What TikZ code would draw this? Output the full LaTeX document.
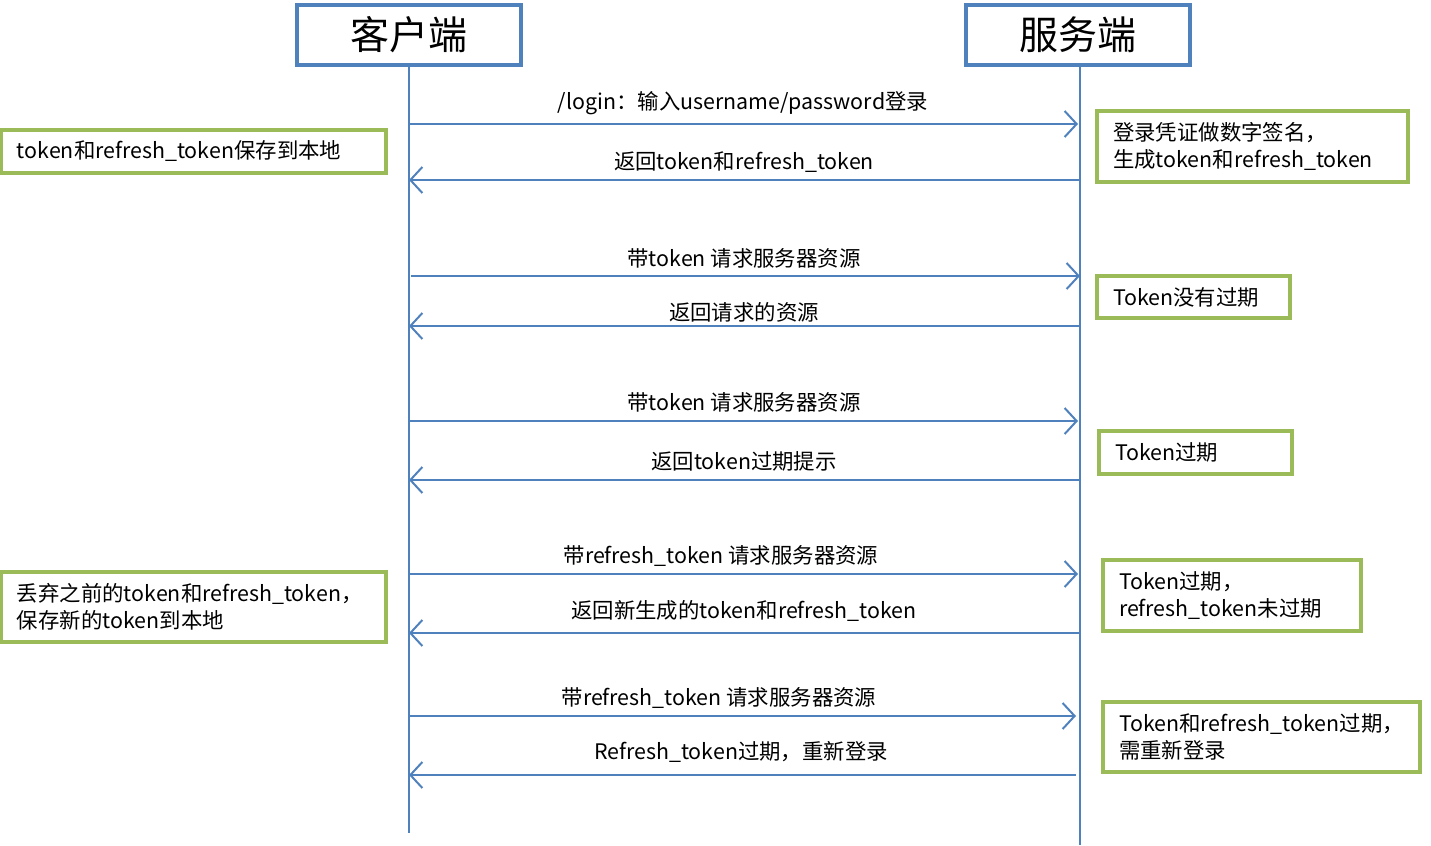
\documentclass[tikz,border=0pt]{standalone}
\usepackage{fontspec}
\setmainfont{Noto Sans CJK SC}
\usetikzlibrary{arrows.meta}

\definecolor{lineblue}{HTML}{4F81BD}
\definecolor{boxgreen}{HTML}{9BBB59}

\tikzset{
  head/.style={draw=lineblue, line width=2pt, minimum width=112pt, minimum height=30pt,
    inner sep=0pt, font=\fontsize{19.5}{22}\selectfont},
  life/.style={draw=lineblue, line width=1pt},
  msg/.style={draw=lineblue, line width=1pt, -{Straight Barb[length=6pt,width=13pt,line width=1pt]}},
  lbl/.style={inner sep=0pt, font=\fontsize{10.7}{13}\selectfont},
  gbox/.style={draw=boxgreen, line width=1.6pt, inner xsep=8pt, inner ysep=0pt, align=left,
    font=\fontsize{10.7}{13.5}\selectfont}
}

\begin{document}
\begin{tikzpicture}[x=0.5pt,y=-0.5pt]
\useasboundingbox (0,0) rectangle (1431,846);

% lifelines
\node[head] (client) at (409,35) {\raisebox{-1pt}{客户端}};
\node[head] (server) at (1078,35) {\raisebox{-1pt}{服务端}};
\coordinate (clientEnd) at (409,833);
\coordinate (serverEnd) at (1080,845);
\draw[life] (client.south) -- (clientEnd);
\draw[life] (server.south -| serverEnd) -- (serverEnd);

% login
\coordinate (c1) at (409,124); \coordinate (s1) at (1078,124);
\draw[msg] (c1) -- (s1);
\node[lbl] (m1) at (743,103) {/login：输入username/password登录};
\coordinate (c2) at (409,180); \coordinate (s2) at (1080,180);
\draw[msg] (s2) -- (c2);
\node[lbl] (m2) at (744,162) {返回token和refresh\_token};

% token ok
\coordinate (c3) at (411,276); \coordinate (s3) at (1080,276);
\draw[msg] (c3) -- (s3);
\node[lbl] (m3) at (744,258) {带token 请求服务器资源};
\coordinate (c4) at (409,326); \coordinate (s4) at (1080,326);
\draw[msg] (s4) -- (c4);
\node[lbl] (m4) at (744,312) {返回请求的资源};

% token expired
\coordinate (c5) at (409,421); \coordinate (s5) at (1078,421);
\draw[msg] (c5) -- (s5);
\node[lbl] (m5) at (744,402) {带token 请求服务器资源};
\coordinate (c6) at (409,480); \coordinate (s6) at (1080,480);
\draw[msg] (s6) -- (c6);
\node[lbl] (m6) at (744,461) {返回token过期提示};

% refresh
\coordinate (c7) at (409,574); \coordinate (s7) at (1078,574);
\draw[msg] (c7) -- (s7);
\node[lbl] (m7) at (721,556) {带refresh\_token 请求服务器资源};
\coordinate (c8) at (409,633); \coordinate (s8) at (1080,633);
\draw[msg] (s8) -- (c8);
\node[lbl] (m8) at (744,611) {返回新生成的token和refresh\_token};

% refresh expired
\coordinate (c9) at (409,716); \coordinate (s9) at (1076,716);
\draw[msg] (c9) -- (s9);
\node[lbl] (m9) at (719,698) {带refresh\_token 请求服务器资源};
\coordinate (c10) at (409,775); \coordinate (s10) at (1076,775);
\draw[msg] (s10) -- (c10);
\node[lbl] (m10) at (741,752) {Refresh\_token过期，重新登录};

% notes
\node[gbox, minimum height=21.5pt, text width=176.5pt] (saveOld) at (193.5,151.5)
  {token和refresh\_token保存到本地};
\node[gbox, minimum height=35.5pt, text width=139.5pt] (sign) at (1252.5,146.5)
  {登录凭证做数字签名，\\生成token和refresh\_token};
\node[gbox, minimum height=21pt, text width=80.5pt] (valid) at (1193.5,297)
  {Token没有过期};
\node[gbox, minimum height=21.5pt, text width=80.5pt] (expired) at (1195.5,452.5)
  {Token过期};
\node[gbox, minimum height=35pt, text width=176.5pt] (saveNew) at (193.5,607)
  {丢弃之前的token和refresh\_token，\\保存新的token到本地};
\node[gbox, minimum height=35.5pt, text width=113pt] (refreshOk) at (1232,595.5)
  {Token过期，\\refresh\_token未过期};
\node[gbox, minimum height=35pt, text width=142.5pt] (relogin) at (1261.5,737)
  {Token和refresh\_token过期，\\需重新登录};
\end{tikzpicture}
\end{document}
